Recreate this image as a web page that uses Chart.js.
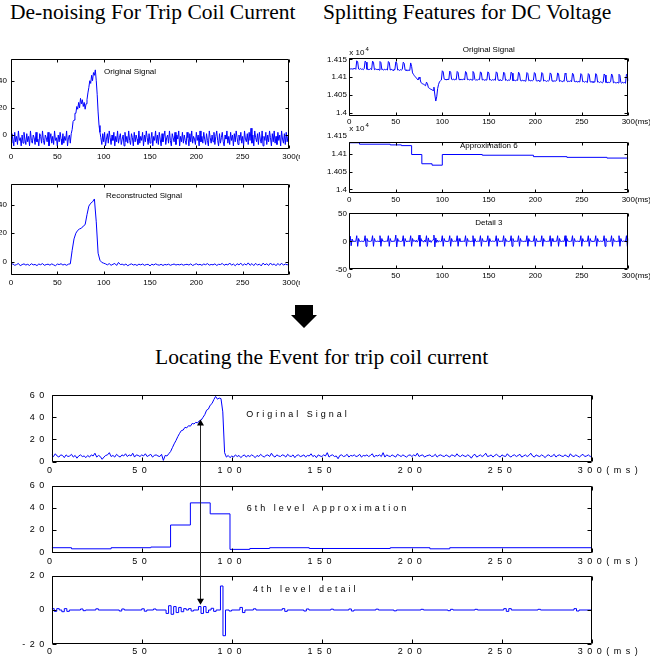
<!DOCTYPE html>
<html>
<head>
<meta charset="utf-8">
<script src="https://cdn.jsdelivr.net/npm/chart.js@4.4.1/dist/chart.umd.min.js"></script>
<style>
  body { margin: 0; width: 650px; height: 661px; overflow: hidden; background: #fff; position: relative; }
  .hd { position: absolute; font: 21.5px 'Liberation Serif', serif; line-height: 21.5px; color: #000; white-space: nowrap; }
  canvas { position: absolute; }
  #clipL { position: absolute; left: 0; top: 0; width: 300px; height: 300px; overflow: hidden; }
  #overlay { left: 0; top: 0; pointer-events: none; }
</style>
</head>
<body>
<div class="hd" style="left:10px;top:2px">De-noising For Trip Coil Current</div>
<div class="hd" style="left:323px;top:2px">Splitting Features for DC Voltage</div>
<div class="hd" style="left:155px;top:347px">Locating the Event for trip coil current</div>
<div id="clipL"></div>
<div id="main"></div>
<canvas id="overlay" width="650" height="661"></canvas>
<script>
// ---- data (time axis in ms) ----
const timeTicks = [0, 50, 100, 150, 200, 250, 300];
const rawStep = 1;      // ms per sample, raw signals
const coarseStep = 2;   // ms per sample, reconstructed signal

// de-noising: original trip coil current
const coilOriginal = [
  -6, 1, -3, -8, 2, -5, -1, -7, 3, -4,
  -2, -8, 0, -6, 2, -3, -7, 1, -5, -1,
  -8, 3, -4, -6, 0, -2, -7, 2, -5, -3,
  -8, 1, -1, -6, 3, -4, -7, 0, -2, -5,
  2, -8, -3, 1, -6, -1, -7, 3, -4, -2,
  -8, 0, -5, 2, -3, -7, 1, -6, -1, -4,
  3, -8, -2, 0, -6, 1, 4, 10, 11, 16,
  16, 21, 19, 24, 20, 27, 23, 26, 21, 24,
  19, 23, 26, 31, 35, 40, 38, 44, 40, 46,
  44, 48, 40, 30, 17, 7, 2, -2, -7, 1,
  -5, 2, -8, -3, 1, -6, 3, -2, -7, 0,
  -4, 2, -8, -1, -5, 3, -6, -2, 1, -7,
  -3, 0, -8, 2, -5, -1, -6, 3, -4, -7,
  1, -2, -8, 2, -5, 0, -3, -7, 3, -6,
  -1, -4, 2, -8, 0, -5, 3, -2, -7, 1,
  -6, -3, 2, -8, -1, -4, 3, -6, 0, -7,
  2, -3, -8, 1, -5, -1, 3, -7, -2, 0,
  -6, 3, -4, -8, 1, -2, -5, 2, -7, 0,
  -3, 3, -8, -1, -5, 2, -6, 0, -4, -7,
  2, -2, -8, 1, -5, 3, -6, -1, -3, -7,
  2, -4, 0, -8, 3, -5, -1, -6, 2, -3,
  -7, 1, -4, -8, 3, -2, -6, 0, -5, 2,
  -7, -1, 3, -4, -8, 1, -6, -2, 2, -5,
  -8, 0, -3, 3, -6, -1, -7, 2, -4, 0,
  -8, 1, -5, 3, -2, -7, 0, -4, 2, -6,
  -1, -8, 3, -3, -5, 1, -7, 2, -4, 5,
  -6, 0, -8, 3, -2, -5, 1, -7, 2, -3,
  -6, 3, -8, -1, -4, 2, -7, 0, -5, 3,
  -2, -8, 1, -5, 3, -6, -1, -7, 2, -4,
  0, -8, 3, -3, -6, 1, -7, 2, -5, -1,
  -4
];
// de-noising: reconstructed signal
const coilReconstructed = [
  -2, -1.5, -2.5, -2, -1.2, -2.8, -2, -1.5, -2.3, -1.8, -2.6, -1.4, -2.2, -1.9, -2.7, -1.6,
  -2.1, -1.3, -2.5, -2, -1.7, -2.4, -1.5, -2.2, -2.8, -1.6, -2, -1.4, -2.3, -1.8, -2.5, -1.7,
  -1.5, 8, 16, 20, 22, 23, 23.5, 25, 26, 33, 39, 41, 42, 44, 28, 6, 1, -0.5,
  -1, -1.5, -2.2, -1.3, -2.5, -1.8, -1.2, -2.6, -0.5, -2, -1.7, -2.4, -1.6, -2.8, -2, -1.5,
  -2.3, -1.9, -2.6, -1.7, -2.2, -1.6, -2.5, -2, -1.8, -2.9, -1.7, -2.3, -1.5, -2.1, -2.4, -1.8,
  -2.6, -1.9, -2.2, -1.7, -2.5, -2, -1.6, -2.3, -1.9, -2.2, -1.7, -2.4, -2, -1.8, -2.3, -1.5,
  -2.6, -2, -1.4, -2.2, -1.8, -2.5, -1.6, -2.1, -1.3, -2.4, -1.9, -2.2, -1.5, -2.6, -1.8, -2,
  -1.2, -2.5, -1.7, -2.3, -0.9, -2.4, -1.6, -2.8, -1.4, -2.2, -1, -2.6, -1.5, -2.3, -0.8, -2.5,
  -1.3, -2.7, -1.1, -2.4, -1.6, -2.9, -1, -2.2, -1.4, -2.6, -0.9, -2.3, -1.5, -2.8, -1.2, -2.5,
  -1, -2.4, -1.6, -2.2, -1.5
];
// DC voltage, original (V)
const dcOriginal = [
  14125, 14123, 14124, 14122, 14124, 14123, 14125, 14122, 14146, 14143,
  14123, 14122, 14124, 14122, 14123, 14121, 14124, 14145, 14142, 14122,
  14123, 14121, 14122, 14124, 14121, 14145, 14142, 14121, 14123, 14122,
  14121, 14123, 14120, 14144, 14141, 14121, 14122, 14120, 14122, 14121,
  14122, 14120, 14144, 14141, 14120, 14122, 14121, 14119, 14122, 14121,
  14143, 14140, 14120, 14121, 14119, 14121, 14120, 14122, 14142, 14139,
  14120, 14119, 14121, 14118, 14120, 14119, 14140, 14130, 14112, 14108,
  14104, 14101, 14098, 14095, 14092, 14100, 14096, 14085, 14083, 14081,
  14080, 14078, 14076, 14086, 14082, 14071, 14069, 14067, 14066, 14064,
  14063, 14072, 14050, 14033, 14045, 14068, 14080, 14087, 14090, 14092,
  14118, 14115, 14095, 14093, 14094, 14092, 14095, 14093, 14117, 14114,
  14094, 14093, 14095, 14092, 14094, 14093, 14116, 14113, 14093, 14095,
  14092, 14094, 14093, 14095, 14092, 14116, 14113, 14093, 14094, 14092,
  14094, 14093, 14092, 14116, 14112, 14094, 14091, 14093, 14092, 14094,
  14093, 14115, 14112, 14092, 14094, 14091, 14093, 14092, 14094, 14115,
  14112, 14092, 14093, 14091, 14093, 14092, 14094, 14091, 14115, 14112,
  14092, 14091, 14093, 14092, 14090, 14093, 14114, 14111, 14091, 14093,
  14090, 14092, 14091, 14093, 14114, 14111, 14090, 14092, 14091, 14090,
  14092, 14091, 14114, 14110, 14091, 14089, 14092, 14090, 14091, 14089,
  14091, 14113, 14110, 14090, 14092, 14089, 14091, 14090, 14092, 14113,
  14110, 14090, 14089, 14091, 14090, 14088, 14091, 14113, 14110, 14089,
  14091, 14090, 14088, 14090, 14089, 14091, 14112, 14109, 14089, 14090,
  14088, 14090, 14089, 14091, 14112, 14109, 14088, 14090, 14089, 14087,
  14090, 14088, 14111, 14108, 14089, 14087, 14089, 14088, 14090, 14087,
  14111, 14108, 14088, 14087, 14089, 14086, 14088, 14087, 14089, 14110,
  14107, 14087, 14088, 14086, 14088, 14087, 14085, 14110, 14107, 14087,
  14086, 14088, 14085, 14087, 14086, 14110, 14106, 14086, 14087, 14085,
  14087, 14086, 14084, 14086, 14109, 14106, 14085, 14087, 14084, 14086,
  14085, 14087, 14109, 14105, 14084, 14086, 14085, 14083, 14086, 14084,
  14108, 14105, 14085, 14083, 14086, 14084, 14085, 14083, 14108, 14105,
  14090
];
// DC voltage, approximation 6 (step start in ms, level in V)
const dcApproxStart = [0, 11, 44, 56, 67, 78, 89, 100, 143, 198, 234, 277, 300];
const dcApproxLevel = [14131, 14127, 14125, 14123, 14098, 14072, 14068, 14098, 14096, 14092, 14090, 14088, 14088];
// DC voltage, detail 3
const dcDetail3 = [
  0, 9, -8, 4, 0, 0.5, -0.3, 0, 10, -9,
  5, 0, -0.4, 0.3, 0, -0.5, 0.2, 10, -9, 5,
  0, 0.4, -0.3, 0, 0.5, 10, -9, 5, 0, -0.4,
  0.3, 0, -0.2, 10, -9, 5, 0, 0.4, -0.5, 0,
  0.3, -0.2, 10, -9, 5, 0, -0.4, 0.3, 0, 0.5,
  11, -10, 5, 0, 0.4, -0.3, 0, 0.2, 10, -9,
  5, 0, -0.5, 0.4, 0, -0.3, 10, -9, 5, 0,
  1.5, -1, 2, -1.5, 1, 11, -9, 5, 0, 1,
  -1.5, 2, -1, 10, -9, 6, -1, 1.5, -2, 1,
  3, 11, -10, 6, -2, 2, -1, 0.5, -0.5, 0,
  10, -9, 5, 0, 0.3, -0.4, 0, 0.2, 10, -9,
  5, 0, -0.3, 0.4, 0, -0.2, 10, -9, 5, 0,
  0.3, -0.4, 0, 0.2, -0.3, 10, -9, 5, 0, 0.4,
  -0.3, 0, 0.2, 10, -9, 5, 0, -0.4, 0.3, 0,
  -0.2, 10, -9, 5, 0, 0.3, -0.4, 0, 0.2, 10,
  -9, 5, 0, -0.3, 0.4, 0, -0.2, 0.3, 10, -9,
  5, 0, -0.4, 0.3, 0, -0.2, 10, -9, 5, 0,
  0.3, -0.4, 0, 0.2, 10, -9, 5, 0, -0.3, 0.4,
  0, -0.2, 10, -9, 5, 0, 0.3, -0.4, 0, 0.2,
  -0.3, 10, -9, 5, 0, 0.4, -0.3, 0, 0.2, 10,
  -9, 5, 0, -0.4, 0.3, 0, -0.2, 10, -9, 5,
  0, 0.3, -0.4, 0, 0.2, -0.3, 10, -9, 5, 0,
  0.4, -0.3, 0, 0.2, 10, -9, 5, 0, -0.4, 0.3,
  0, -0.2, 10, -9, 5, 0, 0.3, -0.4, 0, 0.2,
  10, -9, 5, 0, -0.3, 0.4, 0, -0.2, 0.3, 10,
  -9, 5, 0, -0.4, 0.3, 0, -0.2, 10, -9, 5,
  0, 0.3, -0.4, 0, 0.2, 10, -9, 5, 0, -0.3,
  0.4, 0, -0.2, 0.3, 10, -9, 5, 0, -0.4, 0.3,
  0, -0.2, 10, -9, 5, 0, 0.3, -0.4, 0, 0.2,
  10, -9, 5, 0, -0.3, 0.4, 0, -0.2, 10, -9,
  5
];
// event location: original trip coil current
const tripOriginal = [
  6, 4.5, 7, 5, 4, 6, 5.5, 3.5, 6, 4.5,
  5, 6.5, 4, 5.5, 3, 5, 6, 4.5, 5, 3.5,
  5.5, 4, 6, 5, 7.5, 4, 5.5, 4.5, 2, 4,
  5.5, 6, 8, 4.5, 5.5, 4, 6.5, 5, 4, 6,
  5, 7, 4.5, 6, 5, 7.5, 4, 6, 5.5, 4.5,
  6, 5, 7, 4.5, 5.5, 6.5, 4, 5.5, 6, 5,
  4.5, 6.5, 1, 5.5, 5, 7, 9, 12.5, 16, 19,
  22.5, 25.5, 28, 28.5, 31, 30.5, 32.5, 32, 34.5, 34,
  35.5, 35, 37, 37.5, 40, 42.5, 46.5, 47.5, 51, 52.5,
  56, 59, 56.5, 57.5, 57, 45, 8, 4, 5.5, 3.5,
  5, 4, 6, 4.5, 5.5, 3.5, 5, 6, 4, 5.5,
  4.5, 6, 5, 3.5, 5.5, 4.5, 6.5, 5, 4, 5.5,
  6, 4.5, 7.5, 5, 4, 6, 5, 4.5, 6, 5.5,
  4, 6.5, 5, 4.5, 6, 3.5, 5.5, 6, 4.5, 5,
  6, 4, 5.5, 5, 7, 4.5, 5.5, 3.5, 6, 5,
  4.5, 6, 5, 8, 4, 5.5, 6, 4.5, 5, 2.5,
  5.5, 6, 4.5, 5, 6.5, 4, 5.5, 5, 6, 4.5,
  5, 6.5, 4, 5.5, 5, 6, 4.5, 5.5, 7, 4,
  5.5, 5, 6, 4.5, 8, 4, 6, 5, 4.5, 6,
  5, 4, 6.5, 5.5, 4.5, 6, 5, 4, 5.5, 6,
  4.5, 6, 5, 7.5, 4.5, 5.5, 6, 4, 5, 5.5,
  6, 4.5, 5, 6.5, 4, 5.5, 6, 5, 4.5, 6,
  5, 4, 6, 5.5, 4.5, 7, 5, 4.5, 6, 5,
  4.5, 6, 5, 3, 5.5, 6.5, 4, 5, 6, 4.5,
  5.5, 7.5, 4.5, 5, 6, 4, 5.5, 6.5, 5, 4,
  6, 5, 4.5, 7, 5, 4, 5.5, 6, 4.5, 5.5,
  6.5, 4, 5, 6, 4.5, 5.5, 7.5, 5, 4, 6,
  5, 4.5, 6, 5, 3.5, 5.5, 6, 4.5, 5, 6.5,
  4, 5.5, 6, 5, 4.5, 6, 5, 4, 7, 5,
  4.5, 6, 5, 4, 5.5, 6.5, 4.5, 5, 6, 4.5,
  5.5
];
// 6th level approximation (step start in ms, level)
const tripApproxStart = [0, 11, 33, 55, 66, 77, 88, 99, 110, 121, 143, 188, 210, 221, 300];
const tripApproxLevel = [4, 3, 4, 4.6, 24.5, 44.5, 34.6, 2.5, 3.3, 4, 3.3, 4, 3, 4, 4];
// 4th level detail (step start in ms, level)
const tripDetailStart = [
  0, 1.4, 2.8, 4.2, 5.6, 7, 8.4, 9.8, 16, 17.4, 18.8, 24.5, 25.9, 37.5, 38.9, 40.3,
  50, 51.4, 52.8, 56.5, 57.9, 63.5, 64.9, 66.3, 67.7, 69.1, 70.5, 71.9, 73.3, 74.7,
  76, 77.4, 78.8, 81.5, 82.9, 84.3, 85.7, 87.1, 88.5, 89.9, 91.3, 93.7, 95.1, 96.5,
  98.5, 99.9, 104.5, 105.9, 107.3, 112, 113.4, 128, 129.4, 130.8, 140, 141.4, 142.8,
  155, 156.4, 165, 166.4, 167.8, 180, 181.4, 190, 191.4, 205, 206.4, 220, 221.4, 222.8,
  235, 236.4, 251, 252.4, 253.8, 255.2, 270, 271.4, 290, 291.4, 292.8, 300
];
const tripDetailLevel = [
  0.8, -0.8, 0.8, 0, -1, 0.8, -0.8, 0, 0.6, -0.4, 0, 0.7, 0, -0.6, 0.6, 0,
  0.7, -0.7, 0, 0.6, 0, -2, 2.5, -2.5, 2, -1.5, 1.5, -1, 0.8, 0,
  0.8, -0.6, 0, 2, -2, 2, -1.5, 0, 1, -0.8, 0, 14, -15, 0,
  -0.6, 0, 1.5, -1.5, 0, 0.7, 0, 0.8, -0.8, 0, -0.6, 0.6, 0,
  0.5, 0, 0.6, -0.6, 0, 0.5, 0, -0.5, 0, 0.4, 0, -0.4, 0.4, 0,
  0.4, 0, 0.8, -0.8, 0.8, 0, 0.4, 0, 0.8, -0.6, 0, 0
];

const coilTicks = [0, 20, 40];
const dcTicks = [14000, 14050, 14100, 14150];
const detail3Ticks = [-50, 0, 50];
const tripTicks = [0, 20, 40, 60];
const tripDetailTicks = [-20, 0, 20];

// event marked by the arrow
const eventMs = 82.5;
const eventTopValue = 38;
const eventBottomValue = 3;

// ---- helpers ----
const sampled = (vals, dt) => vals.map((y, i) => ({x: i * dt, y}));
const steps = (starts, levels) => starts.map((x, i) => ({x, y: levels[i]}));
const FAMILY = "'Liberation Sans'";

const spacingPlugin = {
  id: 'spacing',
  beforeDraw(chart, args, opts) { chart.ctx.letterSpacing = (opts.px || 0) + 'px'; }
};

// box round the plot with inward ticks, as in the original figure
const framePlugin = {
  id: 'frame',
  afterDraw(chart, args, opts) {
    const {ctx, chartArea: a, scales: {x, y}} = chart;
    const L = Math.round(a.left) + 0.5, R = Math.round(a.right) - 0.5;
    const T = Math.round(a.top) + 0.5, B = Math.round(a.bottom) - 0.5;
    const t = opts.tick || 3;
    ctx.save();
    ctx.strokeStyle = '#000';
    ctx.lineWidth = 1;
    ctx.beginPath();
    ctx.rect(L, T, R - L, B - T);
    x.ticks.forEach(tk => {
      const px = Math.round(x.getPixelForValue(tk.value)) + 0.5;
      ctx.moveTo(px, T); ctx.lineTo(px, T + t);
      ctx.moveTo(px, B); ctx.lineTo(px, B - t);
    });
    y.ticks.forEach(tk => {
      if (tk.value > y.max || tk.value < y.min) return;
      const py = Math.round(y.getPixelForValue(tk.value)) + 0.5;
      ctx.moveTo(L, py); ctx.lineTo(L + t, py);
      ctx.moveTo(R, py); ctx.lineTo(R - t, py);
    });
    ctx.stroke();
    ctx.restore();
  }
};

// panel captions and the "(ms)" unit after the last time label
const notesPlugin = {
  id: 'notes',
  afterDraw(chart, args, opts) {
    const {ctx, chartArea: a, scales: {x}} = chart;
    ctx.save();
    ctx.fillStyle = '#000';
    ctx.textBaseline = 'middle';
    (opts.items || []).forEach(n => {
      ctx.font = n.size + 'px ' + FAMILY;
      ctx.letterSpacing = (n.spacing || 0) + 'px';
      ctx.textAlign = n.align || 'left';
      const px = x.getPixelForValue(n.ms), py = a.top + n.dy;
      ctx.fillText(n.text, px, py);
      if (n.sup) {
        const w = ctx.measureText(n.text).width;
        ctx.font = (n.size - 2) + 'px ' + FAMILY;
        ctx.textAlign = 'left';
        ctx.fillText(n.sup, px + w + 1, py - 3);
      }
    });
    const u = opts.unit;
    if (u) {
      ctx.font = u.size + 'px ' + FAMILY;
      ctx.letterSpacing = (u.spacing || 0) + 'px';
      ctx.textAlign = 'left';
      const last = timeTicks[timeTicks.length - 1];
      const w = ctx.measureText(String(last)).width;
      ctx.fillText('(ms)', x.getPixelForValue(last) + w / 2, a.bottom + u.pad + u.size * 0.6);
    }
    ctx.restore();
  }
};

// box = canvas [left, top, width, height]; area = plot [left, top, right, bottom]
function panel(parent, box, area, cfg) {
  const cv = document.createElement('canvas');
  cv.width = box[2];
  cv.height = box[3];
  cv.style.left = box[0] + 'px';
  cv.style.top = box[1] + 'px';
  document.getElementById(parent).appendChild(cv);
  const yW = area[0] - box[0];
  const padTop = area[1] - box[1];
  const padRight = box[0] + box[2] - area[2];
  const xH = box[1] + box[3] - area[3];
  const font = {family: FAMILY, size: cfg.size};
  const chart = new Chart(cv, {
    type: 'line',
    data: {
      datasets: [{
        data: cfg.data,
        borderColor: '#0000ff',
        borderWidth: 1,
        pointRadius: 0,
        stepped: cfg.stepped || false
      }]
    },
    options: {
      responsive: false,
      animation: false,
      events: [],
      layout: {padding: {top: padTop, right: padRight, left: 0, bottom: 0}},
      plugins: {
        legend: {display: false},
        tooltip: {enabled: false},
        spacing: {px: cfg.spacing || 0},
        frame: {tick: cfg.tick},
        notes: {
          items: cfg.notes || [],
          unit: {size: cfg.size, spacing: cfg.spacing || 0, pad: cfg.xPad}
        }
      },
      scales: {
        x: {
          type: 'linear', min: 0, max: 300,
          grid: {display: false, drawTicks: false},
          border: {display: false},
          ticks: {font, color: '#000', padding: cfg.xPad, maxRotation: 0, autoSkip: false, callback: v => String(v)},
          afterBuildTicks: s => { s.ticks = timeTicks.map(v => ({value: v})); },
          afterFit: s => { s.height = xH; }
        },
        y: {
          min: cfg.min, max: cfg.max,
          grid: {display: false, drawTicks: false},
          border: {display: false},
          ticks: {font, color: '#000', padding: cfg.yPad, callback: cfg.fmt || (v => String(v))},
          afterBuildTicks: s => { s.ticks = cfg.yTicks.map(v => ({value: v})); },
          afterFit: s => { s.width = yW; }
        }
      }
    },
    plugins: [spacingPlugin, framePlugin, notesPlugin]
  });
  chart.$box = box;
  return chart;
}

const volts = v => String(v / 10000);

// ---- top left: de-noising ----
panel('clipL', [-30, 45, 360, 120], [11, 59, 289, 149], {
  data: sampled(coilOriginal, rawStep), min: -10.3, max: 56, yTicks: coilTicks,
  size: 8, xPad: 3.2, yPad: 4, tick: 3,
  notes: [{text: 'Original Signal', ms: 100.4, dy: 12.7, size: 8}]
});
panel('clipL', [-30, 170, 360, 122], [11, 184, 289, 275], {
  data: sampled(coilReconstructed, coarseStep), min: -9.3, max: 54.5, yTicks: coilTicks,
  size: 8, xPad: 3.2, yPad: 4, tick: 3,
  notes: [{text: 'Reconstructed Signal', ms: 102.5, dy: 12, size: 8}]
});

// ---- top right: DC voltage ----
panel('main', [300, 40, 360, 90], [349.3, 58.3, 628.3, 116], {
  data: sampled(dcOriginal, rawStep), min: 13991, max: 14153, yTicks: dcTicks, fmt: volts,
  size: 8, xPad: 1.2, yPad: 2.3, tick: 3,
  notes: [
    {text: 'Original Signal', ms: 150, align: 'center', dy: -8.3, size: 8},
    {text: 'x 10', sup: '4', ms: 0, dy: -6, size: 8}
  ]
});
panel('main', [300, 120, 360, 88], [349.3, 141.7, 628.3, 193.3], {
  data: steps(dcApproxStart, dcApproxLevel), stepped: true, min: 13989, max: 14134, yTicks: dcTicks, fmt: volts,
  size: 8, xPad: 1.2, yPad: 2.3, tick: 3,
  notes: [
    {text: 'Approximation 6', ms: 150, align: 'center', dy: 4, size: 8},
    {text: 'x 10', sup: '4', ms: 0, dy: -13.4, size: 8}
  ]
});
panel('main', [300, 200, 360, 84], [349.3, 213.3, 628.3, 269.3], {
  data: sampled(dcDetail3, rawStep), min: -50, max: 50, yTicks: detail3Ticks,
  size: 8, xPad: 1.2, yPad: 2.3, tick: 3,
  notes: [{text: 'Detail 3', ms: 150, align: 'center', dy: 9.4, size: 8}]
});

// ---- bottom: locating the event ----
const b1 = panel('main', [0, 380, 650, 100], [51.7, 395.3, 592, 461.5], {
  data: sampled(tripOriginal, rawStep), min: 0, max: 60, yTicks: tripTicks,
  size: 9, spacing: 4.5, xPad: 4.1, yPad: 3, tick: 4,
  notes: [{text: 'Original Signal', ms: 108, dy: 19.4, size: 9, spacing: 3}]
});
panel('main', [0, 472, 650, 96], [51.7, 485.7, 592, 552.7], {
  data: steps(tripApproxStart, tripApproxLevel), stepped: true, min: -0.5, max: 60, yTicks: tripTicks,
  size: 9, spacing: 4.5, xPad: 3.6, yPad: 3, tick: 4,
  notes: [{text: '6th level Approximation', ms: 108.3, dy: 23.3, size: 9, spacing: 3}]
});
const b3 = panel('main', [0, 564, 650, 97], [51.7, 575.7, 592, 644.3], {
  data: steps(tripDetailStart, tripDetailLevel), stepped: true, min: -20, max: 20, yTicks: tripDetailTicks,
  size: 9, spacing: 4.5, xPad: 2.3, yPad: 3, tick: 4,
  notes: [{text: '4th level detail', ms: 111.8, dy: 14.3, size: 9, spacing: 3}]
});

// ---- overlay: block arrow between the halves, event marker across the bottom panels ----
const g = document.getElementById('overlay').getContext('2d');
g.fillStyle = '#000';
g.beginPath();
g.moveTo(295, 305); g.lineTo(313, 305); g.lineTo(313, 315); g.lineTo(317, 315);
g.lineTo(304, 328); g.lineTo(291, 315); g.lineTo(295, 315);
g.closePath();
g.fill();

const ex = Math.round(b1.$box[0] + b1.scales.x.getPixelForValue(eventMs)) + 0.5;
const yTop = b1.$box[1] + b1.scales.y.getPixelForValue(eventTopValue);
const yBot = b3.$box[1] + b3.scales.y.getPixelForValue(eventBottomValue);
g.strokeStyle = '#222';
g.lineWidth = 1;
g.beginPath();
g.moveTo(ex, yTop + 5);
g.lineTo(ex, yBot - 5);
g.stroke();
g.beginPath();
g.moveTo(ex, yTop); g.lineTo(ex - 3.5, yTop + 6); g.lineTo(ex + 3.5, yTop + 6); g.closePath();
g.moveTo(ex, yBot); g.lineTo(ex - 3.5, yBot - 6); g.lineTo(ex + 3.5, yBot - 6); g.closePath();
g.fill();
</script>
</body>
</html>
